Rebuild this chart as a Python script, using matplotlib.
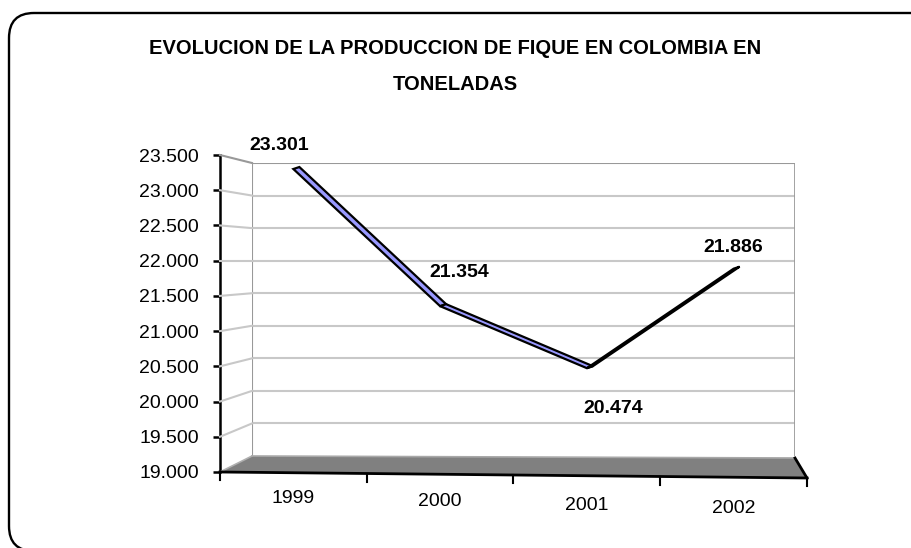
import numpy as np
import matplotlib
matplotlib.use("Agg")
import matplotlib.pyplot as plt
from matplotlib.lines import Line2D
from matplotlib.patches import Polygon, FancyBboxPatch
from matplotlib.transforms import IdentityTransform

plt.rcParams["font.family"] = ["Liberation Sans", "DejaVu Sans"]

# --- data ---
YEARS = ["1999", "2000", "2001", "2002"]
TONS = [23301, 21354, 20474, 21886]
TITLE_LINES = ["EVOLUCION DE LA PRODUCCION DE FIQUE EN COLOMBIA EN", "TONELADAS"]
Y_MIN, Y_MAX, Y_STEP = 19000, 23500, 500

# label offsets in pixels (dx, dy) relative to each point
LABEL_OFFSETS = [(-14, 24), (19, 34), (26, -40), (0, 21)]

W, H = 912, 548
BLUE = "#9999FF"
GRID = "#c8c8c8"
WALL = "#999999"


def fmt(v):
    return f"{v:,.0f}".replace(",", ".")


def rect(x0, y0, x1, y1):
    # pixel box measured from top-left -> figure fraction
    return [x0 / W, (H - y1) / H, (x1 - x0) / W, (y1 - y0) / H]


def add_line(fig, p, q, **kw):
    fig.add_artist(Line2D([p[0], q[0]], [p[1], q[1]], transform=IdentityTransform(), **kw))


fig = plt.figure(figsize=(W / 100, H / 100), dpi=100)

# outer rounded frame
frame = FancyBboxPatch((9, -3), 928, H - 13 + 3, boxstyle="round,pad=0,rounding_size=25",
                       transform=IdentityTransform(), fill=False, edgecolor="black", linewidth=1.7)
fig.add_artist(frame)

levels = np.arange(Y_MIN, Y_MAX + 1, Y_STEP)

# back wall
back = fig.add_axes(rect(252, 163, 795, 456))
back.set_xlim(0, 1)
back.set_ylim(Y_MIN, Y_MAX)
back.axis("off")
for v in levels[1:]:
    back.plot([0, 1], [v, v], color=WALL if v == Y_MAX else GRID, lw=1.5, solid_capstyle="butt")
back.plot([0, 0], [Y_MIN, Y_MAX], color=WALL, lw=1.5)
back.plot([1, 1], [Y_MIN, Y_MAX], color=WALL, lw=2)

# front plane (data axes)
ax = fig.add_axes(rect(220, 155, 807, 472))
ax.set_xlim(-0.5, len(YEARS) - 0.5)
ax.set_ylim(Y_MIN, Y_MAX)
ax.patch.set_visible(False)
for side in ["top", "right", "bottom"]:
    ax.spines[side].set_visible(False)
ax.spines["left"].set_linewidth(1.8)
ax.set_xticks([])
ax.set_yticks(levels)
ax.set_yticklabels([fmt(v) for v in levels], fontsize=14)
ax.tick_params(axis="y", length=5, width=1.8, pad=10)

# side grid lines joining the front axis to the back wall
for v in levels[1:]:
    pf = ax.transData.transform((-0.5, v))
    pb = back.transData.transform((0, v))
    add_line(fig, pf, pb, color=WALL if v == Y_MAX else GRID, lw=1.5)

# floor
fl = ax.transData.transform((-0.5, Y_MIN))
fr = ax.transData.transform((len(YEARS) - 0.5, Y_MIN)) + np.array([0, -6])
bl = back.transData.transform((0, Y_MIN))
br = back.transData.transform((1, Y_MIN)) + np.array([0, -2])
fig.add_artist(Polygon([fl, bl, br, fr], closed=True, transform=IdentityTransform(),
                       facecolor="#808080", edgecolor="none"))
add_line(fig, fl, bl, color="#b0b0b0", lw=1.2)
add_line(fig, bl, br, color="#a8a8a8", lw=1.2)
add_line(fig, br, fr, color="black", lw=2)
add_line(fig, fl, fr, color="black", lw=2)

# x ticks and year labels along the slanted front edge
n = len(YEARS)
for k in range(n + 1):
    p = fl + (fr - fl) * k / n
    add_line(fig, p, p + np.array([0, -8]), color="black", lw=1.5)
for i, yr in enumerate(YEARS):
    p = fl + (fr - fl) * (i + 0.5) / n
    fig.text(p[0] / W, (p[1] - 26 - 1.7 * i) / H, yr, ha="center", va="center", fontsize=14)

# 3D ribbon line
pts = ax.transData.transform(np.column_stack([np.arange(n), TONS]))
depth = np.array([6.0, 2.0])
for i in range(n - 1):
    p0, p1 = pts[i], pts[i + 1]
    s = p1 - p0
    top = s[0] * depth[1] - s[1] * depth[0] > 0
    fig.add_artist(Polygon([p0, p1, p1 + depth, p0 + depth], closed=True,
                           transform=IdentityTransform(), facecolor=BLUE if top else "black",
                           edgecolor="black", linewidth=1.6, joinstyle="miter", zorder=5))

# data labels
for i, (v, off) in enumerate(zip(TONS, LABEL_OFFSETS)):
    ax.annotate(fmt(v), (i, v), xytext=off, textcoords="offset pixels",
                ha="center", va="center", fontsize=14, fontweight="bold", zorder=6)

# title
fig.text(455 / W, 1 - 48 / H, TITLE_LINES[0], ha="center", va="center",
         fontsize=14.5, fontweight="bold")
fig.text(455 / W, 1 - 85 / H, TITLE_LINES[1], ha="center", va="center",
         fontsize=14.5, fontweight="bold")

fig.savefig("out.png", dpi=100)
